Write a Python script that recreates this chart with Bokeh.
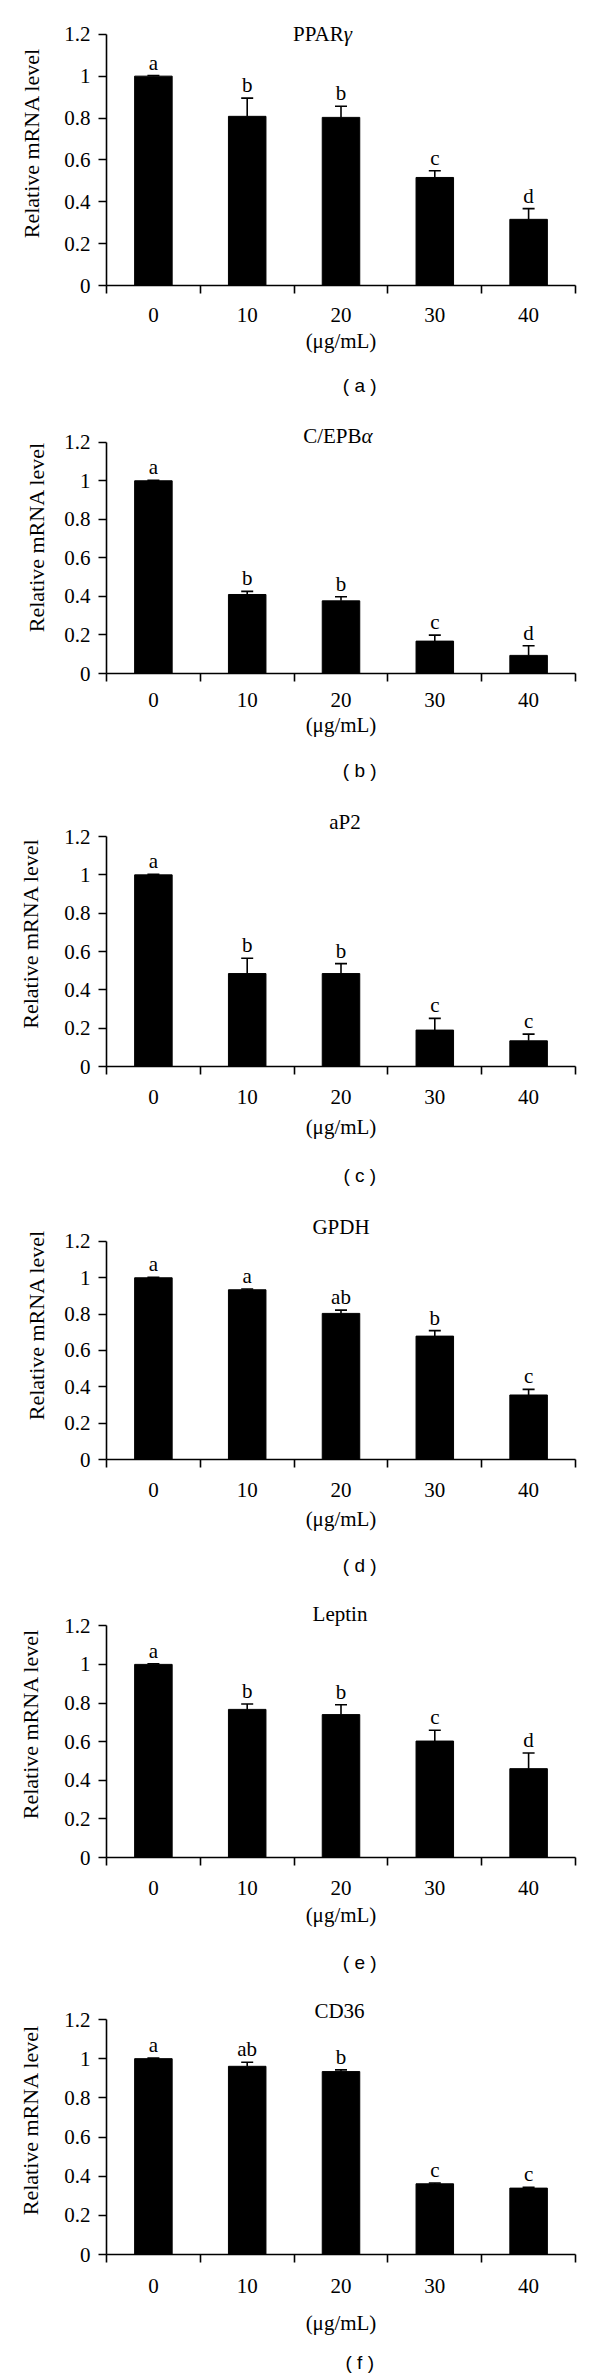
from bokeh.plotting import figure
from bokeh.layouts import column
from bokeh.models import Range1d, FixedTicker, Whisker, TeeHead, Label, ColumnDataSource
from bokeh.embed import file_html
from bokeh.resources import INLINE
from bokeh.core.properties import value

# ---------------- data ----------------
doses = ["0", "10", "20", "30", "40"]
unit_label = "(μg/mL)"
y_label = "Relative mRNA level"
genes = ["PPARγ", "C/EPBα", "aP2", "GPDH", "Leptin", "CD36"]
captions = ["( a )", "( b )", "( c )", "( d )", "( e )", "( f )"]
y_ticks = [0, 0.2, 0.4, 0.6, 0.8, 1.0, 1.2]

pparg_mean = [1.0, 0.808, 0.803, 0.516, 0.316]
pparg_err = [0.003, 0.087, 0.053, 0.032, 0.051]
pparg_sig = ["a", "b", "b", "c", "d"]

cebpa_mean = [1.0, 0.41, 0.377, 0.168, 0.094]
cebpa_err = [0.003, 0.016, 0.021, 0.031, 0.05]
cebpa_sig = ["a", "b", "b", "c", "d"]

ap2_mean = [1.0, 0.485, 0.485, 0.19, 0.134]
ap2_err = [0.003, 0.08, 0.052, 0.061, 0.035]
ap2_sig = ["a", "b", "b", "c", "c"]

gpdh_mean = [1.0, 0.934, 0.804, 0.679, 0.355]
gpdh_err = [0.003, 0.004, 0.018, 0.03, 0.031]
gpdh_sig = ["a", "a", "ab", "b", "c"]

leptin_mean = [1.0, 0.767, 0.74, 0.603, 0.46]
leptin_err = [0.003, 0.028, 0.051, 0.056, 0.081]
leptin_sig = ["a", "b", "b", "c", "d"]

cd36_mean = [1.0, 0.961, 0.934, 0.361, 0.339]
cd36_err = [0.003, 0.021, 0.009, 0.004, 0.004]
cd36_sig = ["a", "ab", "b", "c", "c"]

means = [pparg_mean, cebpa_mean, ap2_mean, gpdh_mean, leptin_mean, cd36_mean]
errs = [pparg_err, cebpa_err, ap2_err, gpdh_err, leptin_err, cd36_err]
sigs = [pparg_sig, cebpa_sig, ap2_sig, gpdh_sig, leptin_sig, cd36_sig]

# ---------------- layout (page pixels) ----------------
FIG_W = 600
panel_top = [0, 400, 800, 1190, 1590, 1985]
cap_top = [365, 750, 1155, 1545, 1942, 2343]
panel_end = [400, 800, 1190, 1590, 1985, 2379]
y12_px = [33.7, 441.7, 836, 1241, 1625.3, 2019]
y0_px = [284.5, 672.7, 1065.7, 1459.3, 1857.3, 2254]
frame_l = [105, 96, 105, 97, 106, 105]
frame_r = [575, 579, 579, 579, 580, 578]
title_xy = [(321, 33), (335, 435), (346, 821), (338, 1227), (342, 1614), (340, 2010)]
ticklab_y = [309, 695, 1091.7, 1485, 1883, 2281]
xlab_y = [338, 723, 1125, 1516.7, 1913, 2321]
cap_y = [385, 770, 1175, 1565, 1962, 2362]
cap_x = 324
ylab_x = [35, 31.5, 34, 31.5, 35, 34]

SERIF = "Liberation Serif"
SANS = "Liberation Sans"
FS_PX = 21
FS = "%dpx" % FS_PX
FS_AX = "22px"
FS_CAP = "19px"

# approximate advance widths (em) of Liberation Serif, used only to centre
# titles whose last (Greek) letter is set in italic
EM = {"P": 0.556, "A": 0.722, "R": 0.667, "C": 0.667, "/": 0.278, "E": 0.611,
      "B": 0.667, "γ": 0.44, "α": 0.53}
GREEK = {"γ", "α"}

items = []
for k in range(6):
    top, bot = panel_top[k], cap_top[k]
    H = bot - top
    fl, fr = frame_l[k], frame_r[k]
    y0, y12 = y0_px[k], y12_px[k]
    ppu = (y0 - y12) / 1.2          # pixels per y unit
    cat_px = (fr - fl) / 5.0         # pixels per category
    y_end = (y0 - top) / ppu

    p = figure(width=FIG_W, height=H, output_backend="svg", toolbar_location=None,
               x_range=Range1d(0, 5), y_range=Range1d(0, y_end),
               min_border_left=int(round(fl)), min_border_right=int(round(FIG_W - fr)),
               min_border_top=0, min_border_bottom=int(round(bot - y0)))
    p.outline_line_color = None
    p.xgrid.visible = False
    p.ygrid.visible = False
    p.background_fill_color = "white"
    p.border_fill_color = "white"

    xs = [i + 0.5 for i in range(5)]
    m, e, s = means[k], errs[k], sigs[k]
    src = ColumnDataSource(dict(x=xs, top=m, up=[a + b for a, b in zip(m, e)], sig=s))

    p.vbar(x="x", top="top", width=0.4, bottom=0, source=src, fill_color="black", line_color="black")
    p.add_layout(Whisker(base="x", lower="top", upper="up", source=src, dimension="height",
                         line_color="black", line_width=1.6,
                         upper_head=TeeHead(size=12, line_color="black", line_width=1.6),
                         lower_head=None))
    p.text(x="x", y="up", text="sig", source=src, text_align="center", text_baseline="bottom",
           y_offset=-1, text_font=value(SERIF), text_font_size=FS, text_color="black")

    # gene name (Greek letter in italic)
    tx, ty = title_xy[k]
    g = genes[k]
    ty_d = (y0 - ty) / ppu
    if g[-1] in GREEK:
        main, greek = g[:-1], g[-1]
        w_main = sum(EM.get(ch, 0.55) for ch in main) * FS_PX
        w_greek = EM[greek] * FS_PX
        split_px = tx - (w_main + w_greek) / 2 + w_main
        xd = (split_px - fl) / cat_px
        p.add_layout(Label(x=xd, y=ty_d, text=main, text_align="right", text_baseline="middle",
                           text_font=SERIF, text_font_size=FS, text_color="black"))
        p.add_layout(Label(x=xd, y=ty_d, text=greek, text_align="left", text_baseline="middle",
                           text_font=SERIF, text_font_size=FS, text_font_style="italic",
                           text_color="black"))
    else:
        p.add_layout(Label(x=(tx - fl) / cat_px, y=ty_d, text=g,
                           text_align="center", text_baseline="middle",
                           text_font=SERIF, text_font_size=FS, text_color="black"))

    # x axis
    xa = p.xaxis[0]
    xa.ticker = FixedTicker(ticks=xs, minor_ticks=[0, 1, 2, 3, 4, 5])
    xa.major_label_overrides = {x: d for x, d in zip(xs, doses)}
    xa.major_tick_line_color = None
    xa.major_tick_out = 0
    xa.major_tick_in = 0
    xa.minor_tick_out = 8
    xa.minor_tick_in = 0
    xa.minor_tick_line_color = "black"
    xa.minor_tick_line_width = 1.6
    xa.axis_line_color = "black"
    xa.axis_line_width = 1.6
    xa.major_label_text_font = SERIF
    xa.major_label_text_font_size = FS
    xa.major_label_text_color = "black"
    st = ticklab_y[k] - y0 - 11
    xa.major_label_standoff = int(round(st))
    xa.axis_label = unit_label
    xa.axis_label_text_font = SERIF
    xa.axis_label_text_font_size = FS
    xa.axis_label_text_font_style = "normal"
    xa.axis_label_text_color = "black"
    xa.axis_label_standoff = max(0, int(round(xlab_y[k] - y0 - (st + 36))))

    # y axis
    ya = p.yaxis[0]
    ya.ticker = FixedTicker(ticks=y_ticks)
    ya.major_label_overrides = {0: "0", 1: "1", 1.0: "1"}
    ya.bounds = (0, 1.2)
    ya.major_tick_out = 8
    ya.major_tick_in = 0
    ya.major_tick_line_width = 1.6
    ya.major_tick_line_color = "black"
    ya.minor_tick_line_color = None
    ya.axis_line_color = "black"
    ya.axis_line_width = 1.6
    ya.major_label_text_font = SERIF
    ya.major_label_text_font_size = FS
    ya.major_label_text_color = "black"
    ya.major_label_standoff = 8
    ya.axis_label = y_label
    ya.axis_label_text_font = SERIF
    ya.axis_label_text_font_size = FS_AX
    ya.axis_label_text_font_style = "normal"
    ya.axis_label_text_color = "black"
    ya.axis_label_standoff = max(0, int(round((fl - ylab_x[k]) - 53)))

    items.append(p)

    # caption strip
    Hc = panel_end[k] - cap_top[k]
    c = figure(width=FIG_W, height=Hc, output_backend="svg", toolbar_location=None,
               x_range=Range1d(0, FIG_W), y_range=Range1d(0, Hc),
               x_axis_location=None, y_axis_location=None,
               min_border_left=0, min_border_right=0, min_border_top=0, min_border_bottom=0)
    c.outline_line_color = None
    c.xgrid.visible = False
    c.ygrid.visible = False
    c.border_fill_color = "white"
    c.add_layout(Label(x=cap_x, y=Hc - (cap_y[k] - cap_top[k]), text=captions[k],
                       text_align="center", text_baseline="middle",
                       text_font=SANS, text_font_size=FS_CAP, text_color="black"))
    items.append(c)

layout = column(*items, spacing=0)
open("out.html", "w").write(file_html(layout, INLINE))
